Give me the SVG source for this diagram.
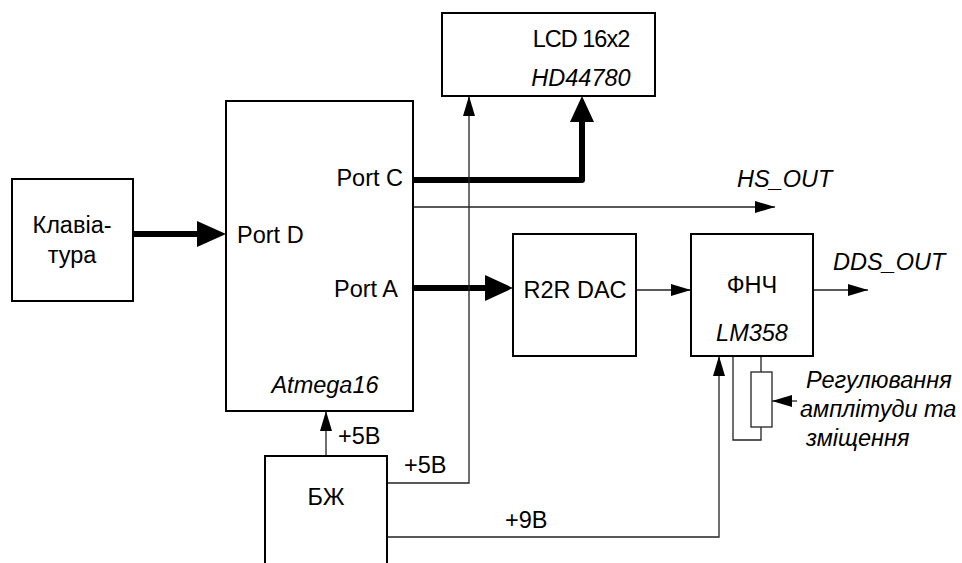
<svg xmlns="http://www.w3.org/2000/svg" width="962" height="563" viewBox="0 0 962 563">
<defs>
<style>
.box{fill:#fff;stroke:#000;stroke-width:2}
.t{font-family:"Liberation Sans",Arial,sans-serif;font-size:23.5px;fill:#000}
.i{font-style:italic}
.thin{fill:none;stroke:#222;stroke-width:1.3}
.thick{fill:none;stroke:#000;stroke-width:6;stroke-linecap:round;stroke-linejoin:round}
.ah{fill:#000}
</style>
<marker id="a" markerWidth="20" markerHeight="12" refX="20" refY="6" orient="auto" markerUnits="userSpaceOnUse"><path d="M0,0 L20,6 L0,12 Z" fill="#000"/></marker>
</defs>
<rect width="962" height="563" fill="#fff"/>
<g id="connectors">
<path class="thick" d="M133,234 H200"/>
<path class="ah" d="M226,234 L197,221 L197,247 Z"/>
<path class="thick" d="M413,180 H582 V122"/>
<path class="ah" d="M582,96 L570,122 L594,122 Z"/>
<path class="thick" d="M413,288 H488"/>
<path class="ah" d="M513,288 L485,275 L485,301 Z"/>
<path class="thin" d="M413,207 H775" marker-end="url(#a)"/>
<path class="thin" d="M636,290 H691" marker-end="url(#a)"/>
<path class="thin" d="M813,290 H868" marker-end="url(#a)"/>
<path class="thin" d="M387,483 H469 V96" marker-end="url(#a)"/>
<path class="thin" d="M326,456 V411" marker-end="url(#a)"/>
<path class="thin" d="M387,537 H719 V356" marker-end="url(#a)"/>
<path class="thin" d="M761,356 V372 M761,427 V440 H733 V356"/>
<path class="thin" d="M797,401 H772" marker-end="url(#a)"/>
</g>
<g id="lcd"><rect class="box" x="442" y="13" width="213" height="83"/>
<text class="t" x="581" y="47" text-anchor="middle" letter-spacing="-1">LCD 16x2</text>
<text class="t i" x="581" y="86" text-anchor="middle">HD44780</text></g>
<g id="atmega"><rect class="box" x="226" y="101" width="187" height="310"/>
<text class="t" x="403" y="186" text-anchor="end">Port C</text>
<text class="t" x="237" y="243">Port D</text>
<text class="t" x="398" y="297" text-anchor="end">Port A</text>
<text class="t i" x="325" y="393" text-anchor="middle">Atmega16</text></g>
<g id="kbd"><rect class="box" x="12" y="179" width="121" height="122"/>
<text class="t" x="72" y="233" text-anchor="middle">Клавіа-</text>
<text class="t" x="72" y="263" text-anchor="middle">тура</text></g>
<g id="dac"><rect class="box" x="513" y="234" width="123" height="122"/>
<text class="t" x="575" y="298" text-anchor="middle">R2R DAC</text></g>
<g id="lpf"><rect class="box" x="691" y="234" width="122" height="122"/>
<text class="t" x="752" y="293" text-anchor="middle">ФНЧ</text>
<text class="t i" x="752" y="341" text-anchor="middle">LM358</text></g>
<g id="psu"><rect class="box" x="265" y="456" width="122" height="120"/>
<text class="t" x="326" y="505" text-anchor="middle">БЖ</text></g>
<g id="pot"><rect class="thin" x="751" y="372" width="21" height="55"/></g>
<g id="labels">
<text class="t i" x="737" y="187">HS_OUT</text>
<text class="t i" x="833" y="270">DDS_OUT</text>
<text class="t" x="338" y="444">+5В</text>
<text class="t" x="404" y="473">+5В</text>
<text class="t" x="505" y="528">+9В</text>
<text class="t i" x="806" y="388">Регулювання</text>
<text class="t i" x="800" y="417">амплітуди та</text>
<text class="t i" x="806" y="446">зміщення</text>
</g>
</svg>
